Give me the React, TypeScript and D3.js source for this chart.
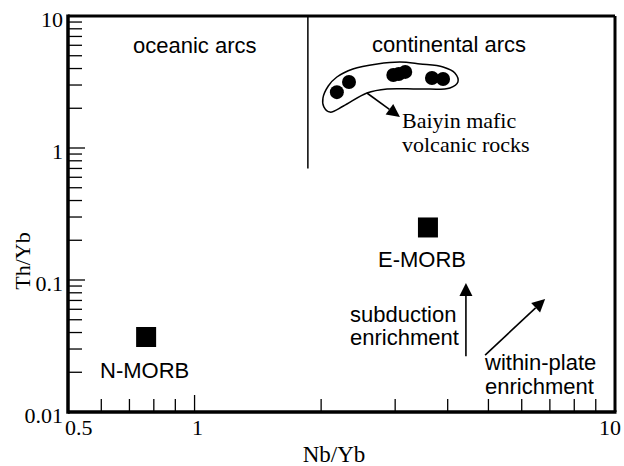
import React from 'react';
import * as d3 from 'd3';

// ---- data ----
const xDomain: [number, number] = [0.5, 10];
const yDomain: [number, number] = [0.01, 10];
const xTickValues = [0.5, 1, 10];
const xTickLabels = ['0.5', '1', '10'];
const yTickValues = [0.01, 0.1, 1, 10];
const yTickLabels = ['0.01', '0.1', '1', '10'];

const baiyinNbYb = [2.18, 2.33, 2.97, 3.06, 3.17, 3.67, 3.9];
const baiyinThYb = [2.65, 3.16, 3.57, 3.64, 3.77, 3.39, 3.33];

const morbNames = ['N-MORB', 'E-MORB'];
const morbNbYb = [0.767, 3.59];
const morbThYb = [0.037, 0.25];

const envNbYb = [2.02, 2.08, 2.18, 2.38, 2.72, 3.08, 3.44, 3.9, 4.16, 4.23, 4.05, 3.44, 2.87, 2.57, 2.26, 2.1, 2.03];
const envThYb = [2.39, 2.95, 3.45, 3.97, 4.33, 4.48, 4.33, 4.11, 3.7, 3.16, 2.85, 2.8, 2.8, 2.61, 2.08, 1.87, 2.05];

const dividerNbYb = 1.86;
const dividerThYb = [0.7, 10];

const subductionArrow = [[4.42, 0.0265], [4.42, 0.095]];
const withinPlateArrow = [[4.91, 0.027], [6.82, 0.0718]];
const pointerArrow = [[2.57, 2.61], [3.08, 1.72]];

const W = 624;
const H = 466;
const left = 68, right = 615, top = 16, bottom = 412;

const SANS = '"Liberation Sans", Arial, sans-serif';
const SERIF = '"Liberation Serif", "Times New Roman", serif';

function Arrow({ pts, x, y }: { pts: number[][]; x: any; y: any }) {
  const x1 = x(pts[0][0]), y1 = y(pts[0][1]);
  const x2 = x(pts[1][0]), y2 = y(pts[1][1]);
  const dx = x2 - x1, dy = y2 - y1;
  const len = Math.hypot(dx, dy);
  const ux = dx / len, uy = dy / len;
  const hl = 13, hw = 6.5;
  const bx = x2 - ux * hl, by = y2 - uy * hl;
  const px = -uy, py = ux;
  const head = `${x2},${y2} ${bx + px * hw},${by + py * hw} ${bx - px * hw},${by - py * hw}`;
  return (
    <g>
      <line x1={x1} y1={y1} x2={bx} y2={by} stroke="#000" strokeWidth={1.6} />
      <polygon points={head} fill="#000" />
    </g>
  );
}

export default function App() {
  const x = d3.scaleLog().domain(xDomain).range([left, right]);
  const y = d3.scaleLog().domain(yDomain).range([bottom, top]);

  const xTicks = x.ticks();
  const yTicks = y.ticks();
  const isMajor = (v: number) => Math.abs(Math.log10(v) - Math.round(Math.log10(v))) < 1e-6;

  const envPts: [number, number][] = envNbYb.map((v, i) => [x(v), y(envThYb[i])]);
  const envPath = d3.line().curve(d3.curveCatmullRomClosed.alpha(0.5))(envPts) || '';

  const sq = 20;
  const xLabelAnchor = ['start', 'middle', 'end'];
  const xLabelShift = [-3, 3, 6];

  return (
    <svg width={W} height={H} style={{ position: 'absolute', left: 0, top: 0, background: '#fff' }}>
      <rect x={0} y={0} width={W} height={H} fill="#fff" />
      {/* ticks */}
      {xTicks.filter(v => v > xDomain[0] && v < xDomain[1]).map((v, i) => (
        <line key={'xt' + i} x1={x(v)} x2={x(v)} y1={bottom} y2={bottom - (isMajor(v) ? 17 : 13)} stroke="#000" strokeWidth={1.3} />
      ))}
      {yTicks.filter(v => v > yDomain[0] && v < yDomain[1]).map((v, i) => (
        <line key={'yt' + i} y1={y(v)} y2={y(v)} x1={left} x2={left + (isMajor(v) ? 17 : 14)} stroke="#000" strokeWidth={1.3} />
      ))}
      {/* frame */}
      <line x1={left} x2={right} y1={top} y2={top} stroke="#000" strokeWidth={3} />
      <line x1={right} x2={right} y1={top} y2={bottom} stroke="#000" strokeWidth={3} />
      <line x1={left} x2={right + 1.5} y1={bottom} y2={bottom} stroke="#000" strokeWidth={3.5} />
      <line x1={left} x2={left} y1={top - 1.5} y2={bottom + 1.75} stroke="#000" strokeWidth={3.5} />

      {/* tick labels */}
      {xTickValues.map((v, i) => (
        <text key={'xl' + i} x={x(v) + xLabelShift[i]} y={435} fontFamily={SERIF} fontSize={22}
          textAnchor={xLabelAnchor[i]}>{xTickLabels[i]}</text>
      ))}
      {yTickValues.map((v, i) => (
        <text key={'yl' + i} x={63} y={y(v) + 11} fontFamily={SERIF} fontSize={22} textAnchor="end">{yTickLabels[i]}</text>
      ))}

      {/* axis titles */}
      <text x={334} y={462} fontFamily={SERIF} fontSize={23} textAnchor="middle">Nb/Yb</text>
      <text transform={`translate(30,261) rotate(-90)`} fontFamily={SERIF} fontSize={22} textAnchor="middle">Th/Yb</text>

      {/* divider */}
      <line x1={x(dividerNbYb)} x2={x(dividerNbYb)} y1={y(dividerThYb[1])} y2={y(dividerThYb[0])} stroke="#000" strokeWidth={1.5} />

      {/* field labels */}
      <text x={133} y={53} fontFamily={SANS} fontSize={22}>oceanic arcs</text>
      <text x={372} y={52} fontFamily={SANS} fontSize={22}>continental arcs</text>

      {/* envelope */}
      <path d={envPath} fill="none" stroke="#000" strokeWidth={1.5} />
      {baiyinNbYb.map((v, i) => (
        <circle key={'d' + i} cx={x(v)} cy={y(baiyinThYb[i])} r={7} fill="#000" />
      ))}
      <Arrow pts={pointerArrow} x={x} y={y} />
      <text x={402} y={128} fontFamily={SERIF} fontSize={22}>Baiyin mafic</text>
      <text x={402} y={152} fontFamily={SERIF} fontSize={22}>volcanic rocks</text>

      {/* MORB */}
      {morbNbYb.map((v, i) => (
        <rect key={'m' + i} x={x(v) - sq / 2} y={y(morbThYb[i]) - sq / 2} width={sq} height={sq} fill="#000" />
      ))}
      <text x={100} y={378} fontFamily={SANS} fontSize={22}>{morbNames[0]}</text>
      <text x={378} y={267} fontFamily={SANS} fontSize={22}>{morbNames[1]}</text>

      {/* arrows */}
      <Arrow pts={subductionArrow} x={x} y={y} />
      <Arrow pts={withinPlateArrow} x={x} y={y} />
      <text x={350} y={322} fontFamily={SANS} fontSize={22}>subduction</text>
      <text x={350} y={345} fontFamily={SANS} fontSize={22}>enrichment</text>
      <text x={485} y={370} fontFamily={SANS} fontSize={22}>within-plate</text>
      <text x={485} y={394} fontFamily={SANS} fontSize={22}>enrichment</text>
    </svg>
  );
}
